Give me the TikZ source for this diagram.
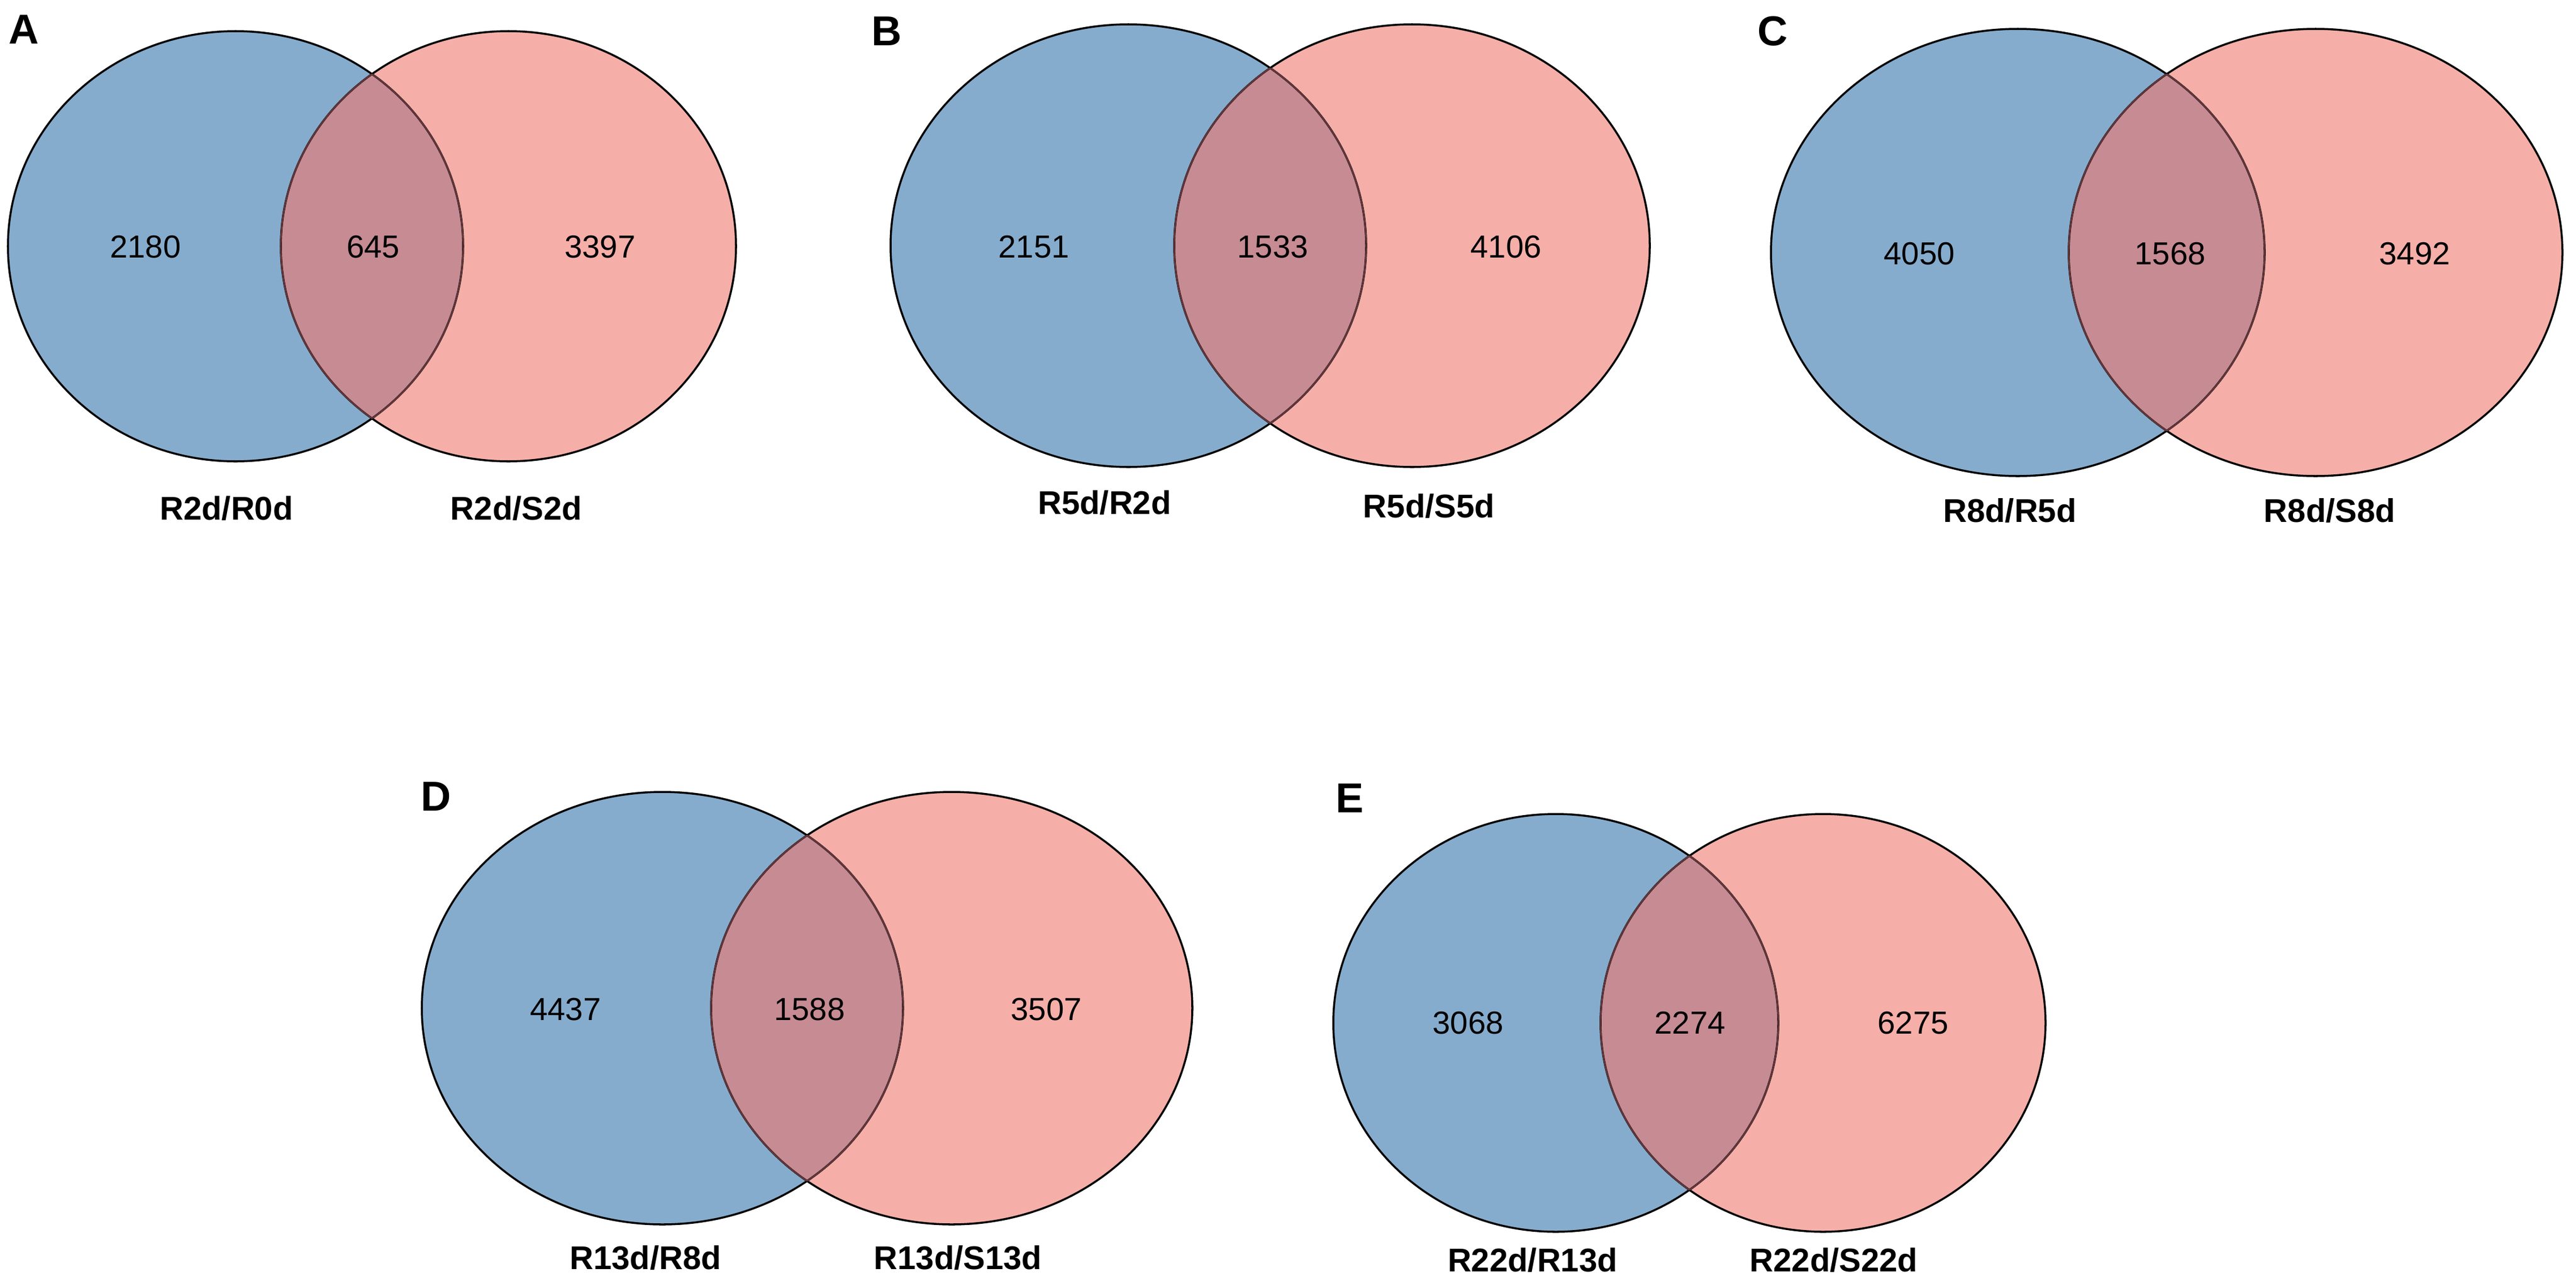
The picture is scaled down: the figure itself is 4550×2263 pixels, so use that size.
\documentclass[tikz,border=0pt]{standalone}
\usepackage{fontspec}
\setmainfont{Liberation Sans}
\definecolor{vennblue}{RGB}{134,172,205}
\definecolor{vennred}{RGB}{245,175,168}
\definecolor{vennmix}{RGB}{199,139,147}
\definecolor{vennedge}{RGB}{100,55,60}

\begin{document}
\begin{tikzpicture}[x=0.01cm, y=-0.01cm,
    cnt/.style={font=\fontsize{16}{18}\selectfont, inner sep=0pt},
    setname/.style={font=\bfseries\fontsize{16.5}{19}\selectfont, inner sep=0pt},
    panel/.style={font=\bfseries\fontsize{21}{24}\selectfont, inner sep=0pt},
    outline/.style={draw=black, line width=1pt}]
    \useasboundingbox (0,0) rectangle (4550,2263);
    \foreach \p/\bx/\rx/\cy/\ax/\ay in {A/416/898/435/402/380, B/1993/2494/434/420/391,
        C/3564/4090/446/436/395, D/1170/1681/1781/425/382, E/2748/3220/1807/393/369}{
        \fill[vennblue] (\bx,\cy) ellipse [x radius=\ax, y radius=\ay];
        \fill[vennred] (\rx,\cy) ellipse [x radius=\ax, y radius=\ay];
        \begin{scope}
            \clip (\bx,\cy) ellipse [x radius=\ax, y radius=\ay];
            \fill[vennmix] (\rx,\cy) ellipse [x radius=\ax, y radius=\ay];
        \end{scope}
        \draw[outline] (\bx,\cy) ellipse [x radius=\ax, y radius=\ay];
        \draw[outline] (\rx,\cy) ellipse [x radius=\ax, y radius=\ay];
        \begin{scope}
            \clip (\bx,\cy) ellipse [x radius=\ax, y radius=\ay];
            \draw[vennedge, line width=0.8pt] (\rx,\cy) ellipse [x radius=\ax, y radius=\ay];
        \end{scope}
        \begin{scope}
            \clip (\rx,\cy) ellipse [x radius=\ax, y radius=\ay];
            \draw[vennedge, line width=0.8pt] (\bx,\cy) ellipse [x radius=\ax, y radius=\ay];
        \end{scope}
    }
    \node[panel] (pA) at (42,52) {A};
    \node[cnt] (A1) at (257,436) {2180};
    \node[cnt] (A2) at (659,436) {645};
    \node[cnt] (A3) at (1060,436) {3397};
    \node[setname] (sA1) at (400,898) {R2d/R0d};
    \node[setname] (sA2) at (912,898) {R2d/S2d};

    \node[panel] (pB) at (1566,55) {B};
    \node[cnt] (B1) at (1826,436) {2151};
    \node[cnt] (B2) at (2248,436) {1533};
    \node[cnt] (B3) at (2660,436) {4106};
    \node[setname] (sB1) at (1951,888) {R5d/R2d};
    \node[setname] (sB2) at (2524,894) {R5d/S5d};

    \node[panel] (pC) at (3131,55) {C};
    \node[cnt] (C1) at (3390,448) {4050};
    \node[cnt] (C2) at (3833,448) {1568};
    \node[cnt] (C3) at (4265,448) {3492};
    \node[setname] (sC1) at (3550,902) {R8d/R5d};
    \node[setname] (sC2) at (4115,902) {R8d/S8d};

    \node[panel] (pD) at (770,1407) {D};
    \node[cnt] (D1) at (999,1783) {4437};
    \node[cnt] (D2) at (1430,1783) {1588};
    \node[cnt] (D3) at (1848,1783) {3507};
    \node[setname] (sD1) at (1140,2222) {R13d/R8d};
    \node[setname] (sD2) at (1692,2222) {R13d/S13d};

    \node[panel] (pE) at (2384,1410) {E};
    \node[cnt] (E1) at (2593,1807) {3068};
    \node[cnt] (E2) at (2985,1807) {2274};
    \node[cnt] (E3) at (3379,1807) {6275};
    \node[setname] (sE1) at (2707,2226) {R22d/R13d};
    \node[setname] (sE2) at (3239,2226) {R22d/S22d};
\end{tikzpicture}
\end{document}
